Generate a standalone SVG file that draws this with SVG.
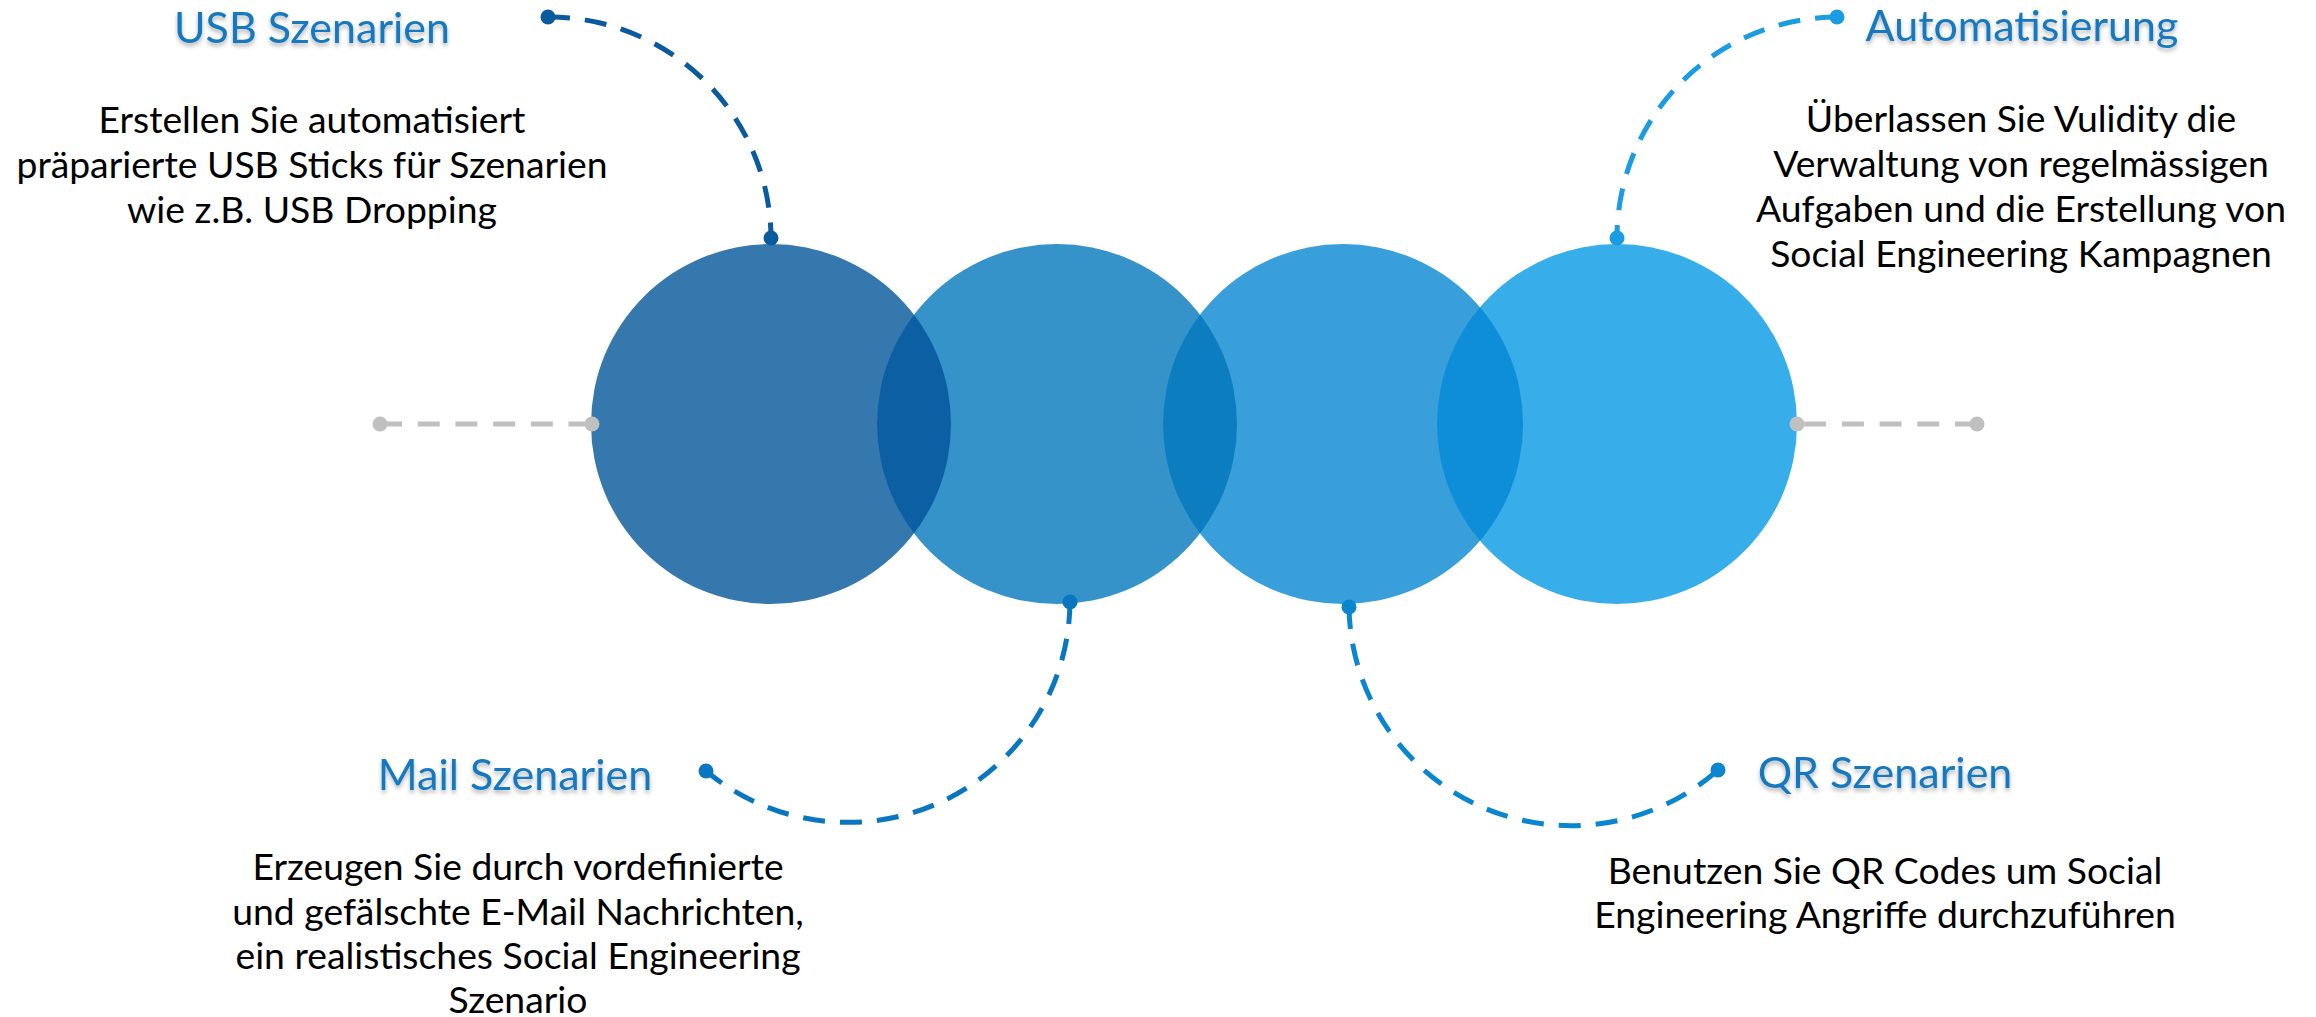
<svg xmlns="http://www.w3.org/2000/svg" width="2316" height="1017" viewBox="0 0 2316 1017">
  <defs>
    <style>
      .title { font-family: Lato, "Liberation Sans", sans-serif; font-size: 43px; fill: #1478BE; text-anchor: middle; }
      .body { font-family: Lato, "Liberation Sans", sans-serif; font-size: 37.3px; fill: #000; text-anchor: middle; }
      .dash { fill: none; stroke-width: 5; stroke-dasharray: 22 15; }
      .gray { fill: none; stroke: #C0C0C0; stroke-width: 5; stroke-dasharray: 22 15.7; }
    </style>
    <filter id="shadow" x="-10%" y="-30%" width="120%" height="170%">
      <feDropShadow dx="0" dy="3" stdDeviation="2.2" flood-color="#000" flood-opacity="0.3"/>
    </filter>
    <clipPath id="clip1"><circle cx="771" cy="424" r="180"/></clipPath>
    <clipPath id="clip2"><circle cx="1057" cy="424" r="180"/></clipPath>
    <clipPath id="clip3"><circle cx="1343" cy="424" r="180"/></clipPath>
  </defs>
  <rect width="2316" height="1017" fill="#fff"/>

  <g id="circles">
    <g id="circle-usb"><circle cx="771" cy="424" r="180" fill="#3478AE"/></g>
    <g id="circle-mail"><circle cx="1057" cy="424" r="180" fill="#3593CA"/></g>
    <g id="circle-qr"><circle cx="1343" cy="424" r="180" fill="#389FDB"/></g>
    <g id="circle-auto"><circle cx="1617" cy="424" r="180" fill="#37AEE9"/></g>
    <circle cx="1057" cy="424" r="180" fill="#0C5FA3" clip-path="url(#clip1)"/>
    <circle cx="1343" cy="424" r="180" fill="#0C7EC0" clip-path="url(#clip2)"/>
    <circle cx="1617" cy="424" r="180" fill="#0E8ED8" clip-path="url(#clip3)"/>
  </g>

  <g id="connectors">
    <line class="gray" x1="380" y1="424" x2="592" y2="424"/>
    <line class="gray" x1="1977" y1="424" x2="1797" y2="424"/>
    <g fill="#C0C0C0">
      <circle cx="380" cy="424" r="7.5"/>
      <circle cx="592" cy="424" r="7.5"/>
      <circle cx="1797" cy="424" r="7.5"/>
      <circle cx="1977" cy="424" r="7.5"/>
    </g>
    <path class="dash" stroke="#0B5A9E" d="M548,17 A222,222 0 0 1 771,238"/>
    <circle cx="548" cy="17" r="7.5" fill="#0B5A9E"/>
    <circle cx="771" cy="238" r="7.5" fill="#0B5A9E"/>

    <path class="dash" stroke="#1A9BE2" d="M1837,17 A221,221 0 0 0 1617,238"/>
    <circle cx="1837" cy="17" r="7.5" fill="#1A9BE2"/>
    <circle cx="1617" cy="238" r="7.5" fill="#1A9BE2"/>

    <path class="dash" stroke="#0B76C0" d="M1070,602 A222,222 0 0 1 706,771"/>
    <circle cx="1070" cy="602" r="7.5" fill="#0B76C0"/>
    <circle cx="706" cy="771" r="7.5" fill="#0B76C0"/>

    <path class="dash" stroke="#0A86CF" d="M1349,607 A222,222 0 0 0 1718,770"/>
    <circle cx="1349" cy="607" r="7.5" fill="#0A86CF"/>
    <circle cx="1718" cy="770" r="7.5" fill="#0A86CF"/>
  </g>

  <g id="label-usb">
    <text class="title" x="312" y="43" filter="url(#shadow)">USB Szenarien</text>
    <text class="body" x="312" y="133">Erstellen Sie automatisiert</text>
    <text class="body" x="312" y="178">präparierte USB Sticks für Szenarien</text>
    <text class="body" x="312" y="223">wie z.B. USB Dropping</text>
  </g>

  <g id="label-auto">
    <text class="title" x="2022" y="41" filter="url(#shadow)">Automatisierung</text>
    <text class="body" x="2021" y="132">Überlassen Sie Vulidity die</text>
    <text class="body" x="2021" y="177">Verwaltung von regelmässigen</text>
    <text class="body" x="2021" y="222">Aufgaben und die Erstellung von</text>
    <text class="body" x="2021" y="267">Social Engineering Kampagnen</text>
  </g>

  <g id="label-mail">
    <text class="title" x="515" y="790" filter="url(#shadow)">Mail Szenarien</text>
    <text class="body" x="518" y="880">Erzeugen Sie durch vordefinierte</text>
    <text class="body" x="518" y="924.5">und gefälschte E-Mail Nachrichten,</text>
    <text class="body" x="518" y="969">ein realistisches Social Engineering</text>
    <text class="body" x="518" y="1013">Szenario</text>
  </g>

  <g id="label-qr">
    <text class="title" x="1885" y="788" filter="url(#shadow)">QR Szenarien</text>
    <text class="body" x="1885" y="884">Benutzen Sie QR Codes um Social</text>
    <text class="body" x="1885" y="928">Engineering Angriffe durchzuführen</text>
  </g>
</svg>
